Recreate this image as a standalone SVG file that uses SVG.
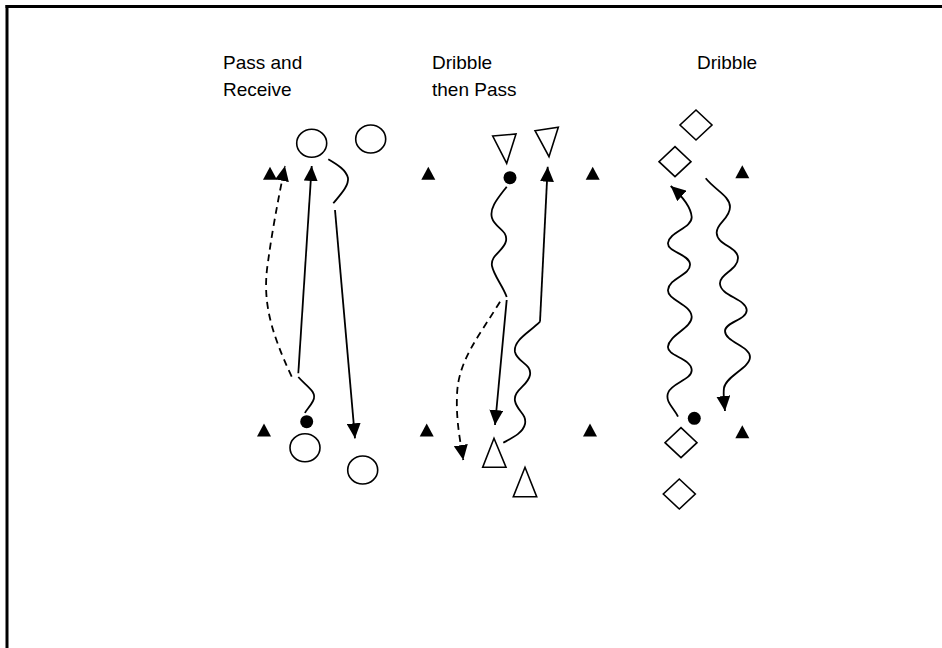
<svg xmlns="http://www.w3.org/2000/svg" xmlns:xlink="http://www.w3.org/1999/xlink" width="942" height="648" viewBox="0 0 942 648">
<style>
.lbl{font-family:"Liberation Sans",Arial,sans-serif;font-size:19px;fill:#000}
.ln{fill:none;stroke:#000;stroke-width:1.8}
.dash{stroke-dasharray:7,5}
.open{fill:#fff;stroke:#000;stroke-width:1.6}
.fill{fill:#000}
</style>
<defs>
<marker id="ah" viewBox="0 0 15 14" refX="15" refY="7" markerWidth="15" markerHeight="14" markerUnits="userSpaceOnUse" orient="auto">
<path d="M0,0 L15,7 L0,14 Z" fill="#000"/>
</marker>
<path id="cone" d="M0,-6.5 L7,6.5 L-7,6.5 Z" fill="#000"/>
</defs>
<rect width="942" height="648" fill="#fff"/>
<g id="frame">
<line x1="5.5" y1="6.5" x2="942" y2="6.5" stroke="#000" stroke-width="3"/>
<line x1="7" y1="5" x2="7" y2="648" stroke="#000" stroke-width="3"/>
</g>
<g id="labels">
<text class="lbl" x="223" y="69">Pass and</text>
<text class="lbl" x="223" y="96">Receive</text>
<text class="lbl" x="432" y="69">Dribble</text>
<text class="lbl" x="432" y="96">then Pass</text>
<text class="lbl" x="697" y="69">Dribble</text>
</g>
<g id="cones">
<use xlink:href="#cone" x="270" y="173.3"/>
<use xlink:href="#cone" x="428.3" y="173.3"/>
<use xlink:href="#cone" x="592.7" y="173.3"/>
<use xlink:href="#cone" x="742.3" y="171.7"/>
<use xlink:href="#cone" x="264" y="430"/>
<use xlink:href="#cone" x="426.7" y="430"/>
<use xlink:href="#cone" x="590" y="430"/>
<use xlink:href="#cone" x="742.3" y="431.7"/>
</g>
<g id="connectors">
<path class="ln dash" d="M291.7,376.7 C270,330 262,300 268,262 C272,232 278,200 285,166" marker-end="url(#ah)"/>
<path class="ln" d="M298.3,373.3 L311.7,166" marker-end="url(#ah)"/>
<path class="ln" d="M298.3,377 C306,386 318,392 313,401 C310,407 306,410 305,413"/>
<path class="ln" d="M328.3,159.3 C338,165 346,170 348,178 C349,186 340,195 333.3,203.3"/>
<path class="ln" d="M335,210 L355,438.3" marker-end="url(#ah)"/>
<path class="ln" d="M506.7,186.7 C498,198 489,208 492,218 C495,228 508,230 506,241 C504,251 490,255 492,266 C494,276 503,286 506.7,297"/>
<path class="ln dash" d="M500,301.7 C480,335 458,360 457,395 C456,420 460,440 463.3,460" marker-end="url(#ah)"/>
<path class="ln" d="M506.7,300 L495,425" marker-end="url(#ah)"/>
<path class="ln" d="M540,321.7 L547.7,166.7" marker-end="url(#ah)"/>
<path class="ln" d="M540,321.7 C530,332 513,340 515,352 C517,362 532,364 530,375 C528,386 513,390 515,401 C517,411 527,414 525,424 C523,433 512,438 503.3,442.7"/>
<path class="ln" d="M678,416.7 C674,408 665,402 668,393 C671,383 692,380 691.7,370 C691,358 667,356 668,346.7 C669,335 692,328 691.7,316.7 C691,304 667,300 668,290 C669,278 691,275 690,264 C689,254 667,252 668,243 C669,232 692,228 691.7,217 C691,208 682,196 670.7,186" marker-end="url(#ah)"/>
<path class="ln" d="M705.7,178.3 C715,190 730,196 730,207 C730,219 716,223 716.7,233 C717,245 738,247 738,258 C738,270 719,274 720,284 C721,296 746,299 746.7,310 C747,320 725,322 725,331 C725,342 750,346 750,357 C750,368 726,376 724,388 C723,395 724,402 725,411" marker-end="url(#ah)"/>
</g>
<g id="players-pass">
<ellipse class="open" cx="311.7" cy="143.3" rx="15" ry="14"/>
<ellipse class="open" cx="370.7" cy="139" rx="15" ry="14"/>
<ellipse class="open" cx="305" cy="447.7" rx="15" ry="14"/>
<ellipse class="open" cx="362.7" cy="470" rx="15" ry="14"/>
<circle class="fill" cx="306.7" cy="421.7" r="6.5"/>
</g>
<g id="players-dribble-pass">
<polygon class="open" points="492.7,136 516,134 506.7,163.3"/>
<polygon class="open" points="535,130.7 558.3,127.3 549,156.7"/>
<polygon class="open" points="482.7,467.3 506,467.3 494,438.3"/>
<polygon class="open" points="513.3,496.7 536.7,496.7 525,467.3"/>
<circle class="fill" cx="510" cy="177.7" r="6.5"/>
</g>
<g id="players-dribble">
<polygon class="open" points="696,110 712,125 696,140 680,125"/>
<polygon class="open" points="675,146.7 691,161.7 675,176.7 659,161.7"/>
<polygon class="open" points="681,427.7 697,442.7 681,457.7 665,442.7"/>
<polygon class="open" points="679.3,479 695.3,494 679.3,509 663.3,494"/>
<circle class="fill" cx="694.3" cy="418.3" r="6.5"/>
</g>
</svg>
